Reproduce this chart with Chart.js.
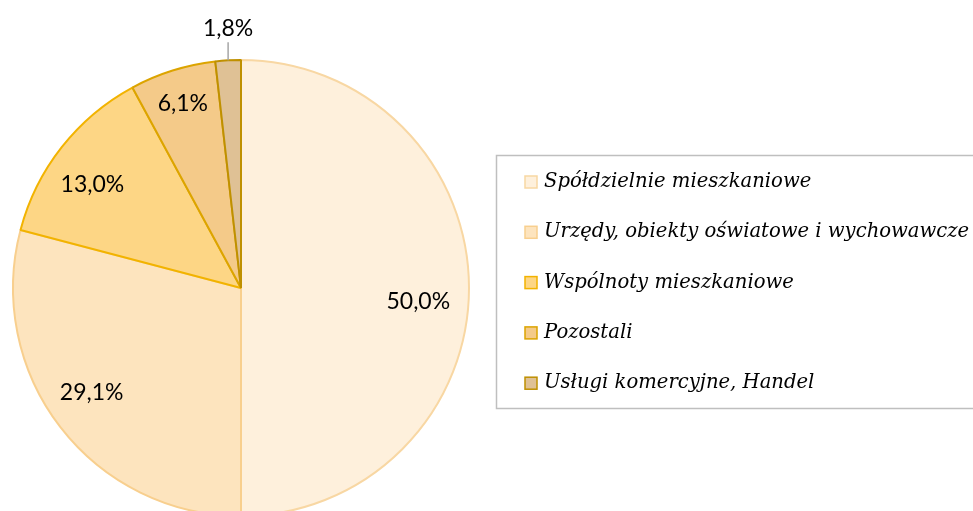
<!DOCTYPE html>
<html>
<head>
<meta charset="utf-8">
<script src="https://cdn.jsdelivr.net/npm/chart.js@4"></script>
<style>
  html, body { margin: 0; padding: 0; background: #fff; overflow: hidden; }
  #wrap { width: 973px; height: 511px; overflow: hidden; }
</style>
</head>
<body>
<div id="wrap"><canvas id="pieChart" width="973" height="540"></canvas></div>
<script>
// data
const categories = [
    'Spółdzielnie mieszkaniowe',
    'Urzędy, obiekty oświatowe i wychowawcze',
    'Wspólnoty mieszkaniowe',
    'Pozostali',
    'Usługi komercyjne, Handel'
];
const shares = [50.0, 29.1, 13.0, 6.1, 1.8];

const fillColors = ['#FEF0DC', '#FDE4BE', '#FDD685', '#F4CA89', '#DFC195'];
const edgeColors = ['#F8D7A3', '#F8CF8E', '#F2B300', '#DCA400', '#BF9000'];
// where each label sits inside its slice (0 = outside with a leader line)
const labelRadius = [0.78, 0.8, 0.795, 0.85, 0];
const labelTurn = [0.078, 0.045, -0.056, 0, 0];

const fmt = v => v.toFixed(1).replace('.', ',') + '%';

const sliceLabels = {
    id: 'sliceLabels',
    afterDatasetsDraw(chart) {
        const ctx = chart.ctx;
        const arcs = chart.getDatasetMeta(0).data;
        ctx.save();
        ctx.font = '23px Lato, sans-serif';
        ctx.fillStyle = '#000';
        ctx.textAlign = 'center';
        ctx.textBaseline = 'middle';
        arcs.forEach((arc, i) => {
            const mid = (arc.startAngle + arc.endAngle) / 2 + labelTurn[i];
            const r = arc.outerRadius;
            if (labelRadius[i] > 0) {
                const x = arc.x + Math.cos(mid) * r * labelRadius[i];
                const y = arc.y + Math.sin(mid) * r * labelRadius[i];
                ctx.fillText(fmt(shares[i]), x, y);
            } else {
                // small slice: label above with a leader line
                const ex = arc.x + Math.cos(mid) * r;
                const ey = arc.y + Math.sin(mid) * r;
                ctx.strokeStyle = '#A6A6A6';
                ctx.lineWidth = 1.5;
                ctx.beginPath();
                ctx.moveTo(ex, ey);
                ctx.lineTo(ex, ey - 18);
                ctx.stroke();
                ctx.fillText(fmt(shares[i]), ex, ey - 32);
            }
        });
        ctx.restore();
    }
};

const boxLegend = {
    id: 'boxLegend',
    afterDraw(chart) {
        const ctx = chart.ctx;
        ctx.save();
        ctx.strokeStyle = '#BFBFBF';
        ctx.lineWidth = 1.5;
        ctx.strokeRect(496.5, 155.5, 500, 253);
        ctx.font = 'italic 19.6px "DejaVu Serif", serif';
        ctx.textBaseline = 'middle';
        categories.forEach((name, i) => {
            const y = 182 + i * 50.3;
            ctx.fillStyle = fillColors[i];
            ctx.fillRect(525, y - 6, 12, 12);
            ctx.strokeStyle = edgeColors[i];
            ctx.lineWidth = 1.5;
            ctx.strokeRect(525, y - 6, 12, 12);
            ctx.fillStyle = '#000';
            ctx.fillText(name, 544, y);
        });
        ctx.restore();
    }
};

new Chart(document.getElementById('pieChart'), {
    type: 'pie',
    data: {
        labels: categories,
        datasets: [{
            data: shares,
            backgroundColor: fillColors,
            borderColor: edgeColors,
            borderWidth: 2
        }]
    },
    options: {
        responsive: false,
        animation: false,
        layout: { padding: { left: 12, right: 503, top: 59, bottom: 23 } },
        plugins: {
            legend: { display: false },
            tooltip: { enabled: false }
        }
    },
    plugins: [sliceLabels, boxLegend]
});
</script>
</body>
</html>
